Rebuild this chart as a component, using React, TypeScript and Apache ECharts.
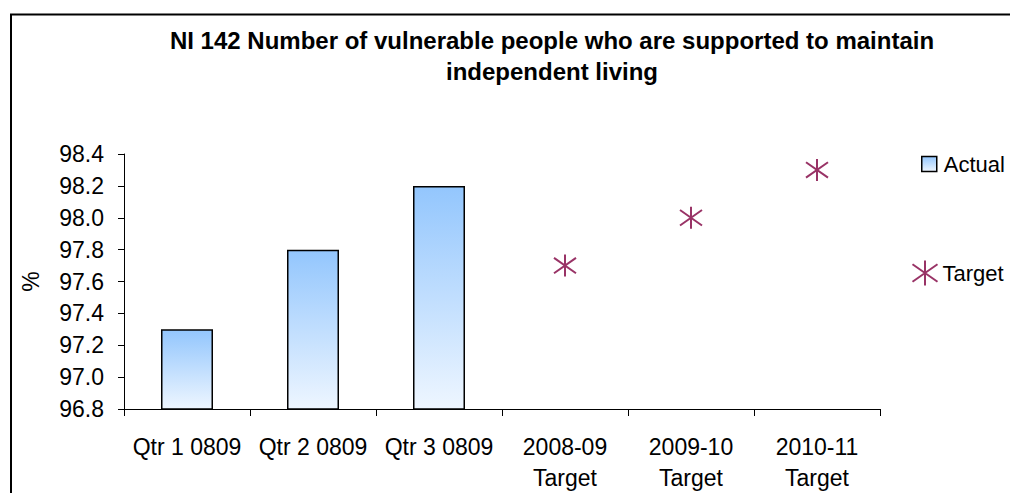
import React, { useEffect, useRef } from "react";
import * as echarts from "echarts";

const categories = ["Qtr 1 0809", "Qtr 2 0809", "Qtr 3 0809", "2008-09\nTarget", "2009-10\nTarget", "2010-11\nTarget"];
const actualValues: (number | string)[] = [97.3, 97.8, 98.2, "-", "-", "-"];
const targetValues: (number | string)[] = ["-", "-", "-", 97.7, 98.0, 98.3];
const yMin = 96.8;
const yMax = 98.4;
const yStep = 0.2;

const STAR = "path://M10 0 L10 20 M0 3 L20 17 M0 17 L20 3";
const FONT = "Liberation Sans, Arial, sans-serif";
const FS = 23;

export default function App() {
  const ref = useRef<HTMLDivElement>(null);
  useEffect(() => {
    if (!ref.current) return;
    const chart = echarts.init(ref.current, undefined, { renderer: "svg" });
    const barGrad = new echarts.graphic.LinearGradient(0, 0, 0, 1, [
      { offset: 0, color: "#93c6fd" },
      { offset: 1, color: "#eef6ff" },
    ]);
    chart.setOption({
      animation: false,
      backgroundColor: "#ffffff",
      textStyle: { fontFamily: FONT },
      title: {
        text: "NI 142 Number of vulnerable people who are supported to maintain\nindependent living",
        left: 547,
        top: 20,
        textAlign: "center",
        textStyle: { fontSize: 24, fontWeight: "bold", color: "#000", lineHeight: 31, fontFamily: FONT },
      },
      graphic: [
        {
          type: "rect",
          shape: { x: 11, y: 14.5, width: 1100, height: 700 },
          style: { fill: "none", stroke: "#000", lineWidth: 2 },
          silent: true,
        },
      ],
      legend: [
        {
          left: 916,
          top: 148,
          itemWidth: 15,
          itemHeight: 15,
          itemGap: 8,
          textStyle: { fontSize: 22, color: "#000", fontFamily: FONT, padding: [0, 0, 0, 2] },
          data: [
            { name: "Actual", icon: "rect", itemStyle: { color: barGrad, borderColor: "#000", borderWidth: 1.5 } },
          ],
        },
        {
          left: 905,
          top: 253,
          itemWidth: 25,
          itemHeight: 25,
          itemGap: 6,
          textStyle: { fontSize: 22, color: "#000", fontFamily: FONT },
          data: [
            { name: "Target", icon: STAR, itemStyle: { color: "none", borderColor: "#993366", borderWidth: 2 } },
          ],
        },
      ],
      grid: { left: 124, right: 130, top: 154, bottom: 83, containLabel: false },
      xAxis: {
        type: "category",
        data: categories,
        axisLine: { lineStyle: { color: "#000", width: 1 } },
        axisTick: { show: true, alignWithLabel: false, length: 7, lineStyle: { color: "#000" } },
        axisLabel: { color: "#000", fontSize: FS, margin: 22, lineHeight: 31, interval: 0, fontFamily: FONT },
      },
      yAxis: {
        type: "value",
        min: yMin,
        max: yMax,
        interval: yStep,
        name: "%",
        nameLocation: "middle",
        nameGap: 82,
        nameTextStyle: { fontSize: FS, color: "#000", fontFamily: FONT },
        axisLine: { show: true, lineStyle: { color: "#000", width: 1 } },
        axisTick: { show: true, length: 6, lineStyle: { color: "#000" } },
        splitLine: { show: false },
        axisLabel: {
          color: "#000",
          fontSize: FS,
          margin: 20,
          fontFamily: FONT,
          formatter: (v: number) => v.toFixed(1),
        },
      },
      series: [
        {
          name: "Actual",
          type: "bar",
          data: actualValues,
          barWidth: 52,
          barGap: "-100%",
          itemStyle: { color: barGrad, borderColor: "#000", borderWidth: 1.5 },
        },
        {
          name: "Target",
          type: "scatter",
          data: targetValues,
          symbol: STAR,
          symbolSize: 22,
          itemStyle: { color: "none", borderColor: "#993366", borderWidth: 2, opacity: 1 },
        },
      ],
    });
    return () => chart.dispose();
  }, []);
  return <div ref={ref} style={{ position: "fixed", left: 0, top: 0, width: 1010, height: 493 }} />;
}
